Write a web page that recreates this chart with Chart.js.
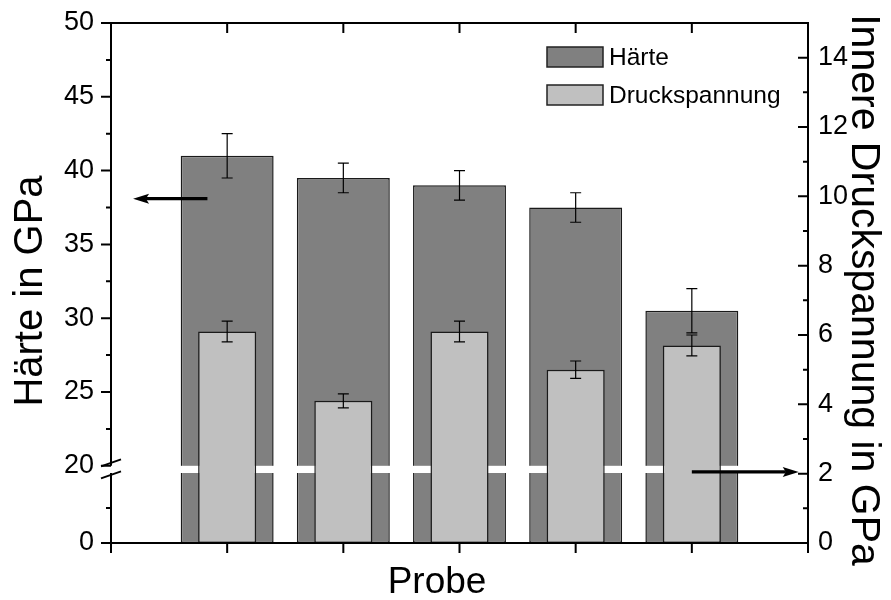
<!DOCTYPE html>
<html>
<head>
<meta charset="utf-8">
<script src="https://cdn.jsdelivr.net/npm/chart.js@4.4.0/dist/chart.umd.min.js"></script>
<style>
  html, body { margin: 0; padding: 0; background: #fff; }
  canvas { display: block; }
</style>
</head>
<body>
<canvas id="hardnessChart" width="891" height="600"></canvas>
<script>
const samples = [1, 2, 3, 4, 5];
const hardness = [41, 39.5, 39, 37.5, 30.5];
const hardnessErr = [1.5, 1, 1, 1, 1.5];
const stress = [6.1, 4.1, 6.1, 5.0, 5.7];
const stressErr = [0.3, 0.2, 0.3, 0.25, 0.3];

const hardnessTicks = [0, 20, 25, 30, 35, 40, 45, 50];
const hardnessMinor = [10, 22.5, 27.5, 32.5, 37.5, 42.5, 47.5];
const stressTicks = [0, 2, 4, 6, 8, 10, 12, 14];
const stressMinor = [1, 3, 5, 7, 9, 11, 13];
const sampleTicks = [0, 1, 2, 3, 4, 5, 6];

// arrows pointing to the axis each series belongs to (x in sample units, y in axis units)
const arrows = [
  { axis: 'y', from: [0.83, 38.1], to: [0.19, 38.1] },
  { axis: 'y2', from: [5.0, 2.05], to: [5.92, 2.05] }
];

const FONT = '"Liberation Sans", Arial, Helvetica, sans-serif';

// linear axis with a break: 0..breakAt is squeezed into a short strip at the bottom
class BrokenLinearScale extends Chart.LinearScale {
  static id = 'brokenLinear';
  static defaults = {};

  _segments() {
    const h = this.bottom - this.top;
    const lower = h * this.options.lowerShare;
    const gap = h * this.options.gapShare;
    return { h, lower, gap };
  }

  getPixelForValue(value) {
    const { h, lower, gap } = this._segments();
    const b = this.options.breakAt;
    if (value < b) {
      return this.bottom - (value - this.min) / (b - this.min) * lower;
    }
    return this.bottom - lower - gap - (value - b) / (this.max - b) * (h - lower - gap);
  }

  getValueForPixel(pixel) {
    const { h, lower, gap } = this._segments();
    const b = this.options.breakAt;
    const d = this.bottom - pixel;
    if (d < lower) {
      return this.min + d / lower * (b - this.min);
    }
    return b + (d - lower - gap) / (h - lower - gap) * (this.max - b);
  }
}
Chart.register(BrokenLinearScale);

function line(ctx, x0, y0, x1, y1) {
  ctx.moveTo(x0, y0);
  ctx.lineTo(x1, y1);
}

function drawErrorBars(chart, values, errs, axisId) {
  const { ctx } = chart;
  const xs = chart.scales.x;
  const ys = chart.scales[axisId];
  ctx.save();
  ctx.strokeStyle = '#000';
  ctx.lineWidth = 1.2;
  ctx.beginPath();
  values.forEach((v, i) => {
    const cx = xs.getPixelForValue(samples[i]);
    const hi = ys.getPixelForValue(v + errs[i]);
    const lo = ys.getPixelForValue(v - errs[i]);
    line(ctx, cx, hi, cx, lo);
    line(ctx, cx - 5.5, hi, cx + 5.5, hi);
    line(ctx, cx - 5.5, lo, cx + 5.5, lo);
  });
  ctx.stroke();
  ctx.restore();
}

function breakBand(chart) {
  const ys = chart.scales.y;
  const { lower, gap } = ys._segments();
  return { top: ys.bottom - lower - gap, bottom: ys.bottom - lower };
}

function drawArrow(ctx, x0, y0, x1, y1) {
  const dir = Math.sign(x1 - x0);
  const head = 16;
  ctx.beginPath();
  ctx.moveTo(x0, y0);
  ctx.lineTo(x1 - dir * head * 0.8, y1);
  ctx.lineWidth = 3.2;
  ctx.stroke();
  ctx.beginPath();
  ctx.moveTo(x1, y1);
  ctx.lineTo(x1 - dir * head, y1 - 5);
  ctx.lineTo(x1 - dir * head * 0.8, y1);
  ctx.lineTo(x1 - dir * head, y1 + 5);
  ctx.closePath();
  ctx.fill();
}

const decorations = {
  id: 'decorations',
  afterDatasetDraw(chart, args) {
    const { ctx, chartArea } = chart;
    if (args.index === 0) {
      // white strip marking the axis break, under the light bars
      const band = breakBand(chart);
      ctx.save();
      ctx.fillStyle = '#fff';
      ctx.fillRect(chartArea.left - 12, band.top, chartArea.right - chartArea.left + 12, band.bottom - band.top);
      ctx.restore();
      drawErrorBars(chart, hardness, hardnessErr, 'y');
    } else if (args.index === 1) {
      drawErrorBars(chart, stress, stressErr, 'y2');
    }
  },
  afterDatasetsDraw(chart) {
    const { ctx, chartArea: a, scales } = chart;
    const band = breakBand(chart);
    ctx.save();
    ctx.strokeStyle = '#000';
    ctx.fillStyle = '#000';
    ctx.lineWidth = 2;
    ctx.lineCap = 'butt';

    // frame
    ctx.beginPath();
    line(ctx, a.left - 1, a.top, a.right + 1, a.top);
    line(ctx, a.left - 1, a.bottom, a.right + 1, a.bottom);
    line(ctx, a.right, a.top, a.right, a.bottom);
    line(ctx, a.left, a.top, a.left, band.top);
    line(ctx, a.left, band.bottom, a.left, a.bottom);

    // x ticks: out at the bottom, in at the top
    sampleTicks.forEach(v => {
      const x = scales.x.getPixelForValue(v);
      line(ctx, x, a.bottom, x, a.bottom + 10);
      line(ctx, x, a.top, x, a.top + 10);
    });
    // left axis ticks point outward
    hardnessTicks.forEach(v => {
      const y = scales.y.getPixelForValue(v);
      line(ctx, a.left - 10, y, a.left, y);
    });
    hardnessMinor.forEach(v => {
      const y = scales.y.getPixelForValue(v);
      line(ctx, a.left - 5, y, a.left, y);
    });
    // right axis ticks point inward
    stressTicks.forEach(v => {
      const y = scales.y2.getPixelForValue(v);
      line(ctx, a.right - 10, y, a.right, y);
    });
    stressMinor.forEach(v => {
      const y = scales.y2.getPixelForValue(v);
      line(ctx, a.right - 5, y, a.right, y);
    });
    ctx.stroke();

    // break marks on the left axis
    const mid = (band.top + band.bottom) / 2;
    ctx.beginPath();
    line(ctx, a.left - 10, mid - 3, a.left + 10, mid - 10);
    line(ctx, a.left - 10, mid + 9, a.left + 10, mid + 2);
    ctx.stroke();

    arrows.forEach(arr => {
      const ys = scales[arr.axis];
      drawArrow(ctx,
        scales.x.getPixelForValue(arr.from[0]), ys.getPixelForValue(arr.from[1]),
        scales.x.getPixelForValue(arr.to[0]), ys.getPixelForValue(arr.to[1]));
    });

    // legend
    ctx.font = `24.5px ${FONT}`;
    ctx.textBaseline = 'middle';
    ctx.textAlign = 'left';
    ctx.lineWidth = 1.5;
    chart.data.datasets.forEach((ds, i) => {
      const y = 47 + i * 38;
      ctx.fillStyle = ds.backgroundColor;
      ctx.fillRect(547, y, 56, 20);
      ctx.strokeStyle = '#222';
      ctx.strokeRect(547, y, 56, 20);
      ctx.fillStyle = '#000';
      ctx.fillText(ds.label, 609, y + 11);
    });

    // axis titles
    ctx.textBaseline = 'alphabetic';
    ctx.textAlign = 'center';
    ctx.font = `37px ${FONT}`;
    ctx.fillText('Probe', 437, 593);
    ctx.font = `40px ${FONT}`;
    ctx.save();
    ctx.translate(42, 291);
    ctx.rotate(-Math.PI / 2);
    ctx.fillText('Härte in GPa', 0, 0);
    ctx.restore();
    ctx.font = `41px ${FONT}`;
    ctx.save();
    ctx.translate(852, 290);
    ctx.rotate(Math.PI / 2);
    ctx.fillText('Innere Druckspannung in GPa', 0, 0);
    ctx.restore();

    ctx.restore();
  }
};

const tickFont = { family: FONT, size: 27 };

function noPadding(scale) {
  scale.paddingTop = 0;
  scale.paddingBottom = 0;
  scale.paddingLeft = 0;
  scale.paddingRight = 0;
}

new Chart(document.getElementById('hardnessChart'), {
  type: 'bar',
  data: {
    datasets: [
      {
        label: 'Härte',
        data: samples.map((s, i) => ({ x: s, y: hardness[i] })),
        yAxisID: 'y',
        backgroundColor: '#808080',
        borderColor: '#1a1a1a',
        borderWidth: 1.5,
        borderSkipped: false,
        grouped: false,
        categoryPercentage: 1,
        barPercentage: 0.8,
        order: 1
      },
      {
        label: 'Druckspannung',
        data: samples.map((s, i) => ({ x: s, y: stress[i] })),
        yAxisID: 'y2',
        backgroundColor: '#c0c0c0',
        borderColor: '#1a1a1a',
        borderWidth: 1.5,
        borderSkipped: false,
        grouped: false,
        categoryPercentage: 1,
        barPercentage: 0.5,
        order: 0
      }
    ]
  },
  options: {
    responsive: false,
    animation: false,
    events: [],
    layout: { padding: { top: 23, left: 0, right: 0, bottom: 0 } },
    plugins: {
      legend: { display: false },
      tooltip: { enabled: false }
    },
    scales: {
      x: {
        type: 'linear',
        offset: false,
        min: 0,
        max: 6,
        ticks: { display: false, stepSize: 1 },
        afterBuildTicks(scale) {
          scale.ticks = sampleTicks.map(value => ({ value }));
        },
        grid: { display: false, drawTicks: false, offset: false },
        border: { display: false },
        afterFit(scale) {
          scale.height = 57;
          noPadding(scale);
        }
      },
      y: {
        type: 'brokenLinear',
        position: 'left',
        min: 0,
        max: 50,
        breakAt: 20,
        lowerShare: 70 / 520,
        gapShare: 7.2 / 520,
        afterBuildTicks(scale) {
          scale.ticks = hardnessTicks.map(value => ({ value }));
        },
        ticks: {
          autoSkip: false,
          padding: 17,
          color: '#000',
          font: tickFont,
          callback: v => String(v)
        },
        grid: { display: false, drawTicks: false },
        border: { display: false },
        afterFit(scale) {
          scale.width = 111;
          noPadding(scale);
        }
      },
      y2: {
        type: 'linear',
        position: 'right',
        min: 0,
        max: 15,
        afterBuildTicks(scale) {
          scale.ticks = stressTicks.map(value => ({ value }));
        },
        ticks: {
          autoSkip: false,
          padding: 10,
          color: '#000',
          font: tickFont,
          callback: v => String(v)
        },
        grid: { display: false, drawTicks: false },
        border: { display: false },
        afterFit(scale) {
          scale.width = 83;
          noPadding(scale);
        }
      }
    }
  },
  plugins: [decorations]
});
</script>
</body>
</html>
